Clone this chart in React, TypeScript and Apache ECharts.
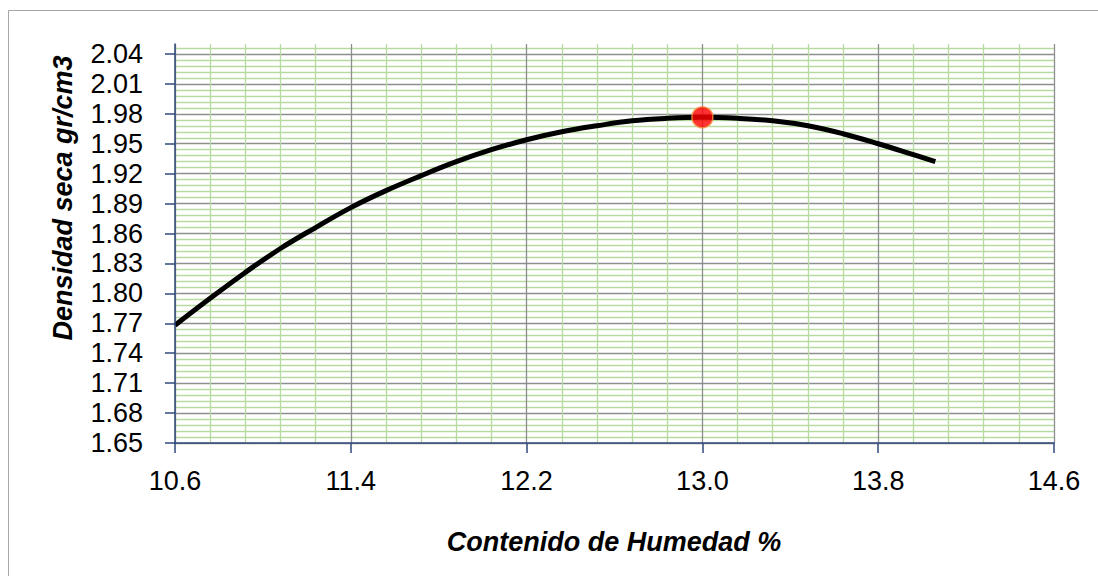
import React, { useEffect, useRef } from "react";
import * as echarts from "echarts";

// Moisture content (%) and dry density (gr/cm3)
const moisture = [10.6, 10.76, 10.92, 11.08, 11.24, 11.4, 11.56, 11.72, 11.88, 12.04, 12.2, 12.36, 12.52, 12.68, 12.84, 13.0, 13.16, 13.32, 13.48, 13.64, 13.8, 13.96, 14.06];
const density = [1.768, 1.795, 1.821, 1.845, 1.866, 1.886, 1.903, 1.918, 1.932, 1.944, 1.954, 1.962, 1.968, 1.973, 1.9755, 1.9765, 1.9755, 1.973, 1.968, 1.96, 1.95, 1.939, 1.932];
// Optimum point
const optimumMoisture = [13.0];
const optimumDensity = [1.9765];
// Tick labels
const yTicks = [1.65, 1.68, 1.71, 1.74, 1.77, 1.8, 1.83, 1.86, 1.89, 1.92, 1.95, 1.98, 2.01, 2.04];
const xTicks = [10.6, 11.4, 12.2, 13.0, 13.8, 14.6];
const xTitle = "Contenido de Humedad %";
const yTitle = "Densidad seca gr/cm3";

const MAJOR = "#8E8E8E";
const MINOR = "#B7DB9F";
const AXIS = "#2F4A7C";
const FONT = '"Liberation Sans", Arial, sans-serif';

export default function App() {
  const ref = useRef<HTMLDivElement>(null);
  useEffect(() => {
    if (!ref.current) return;
    const chart = echarts.init(ref.current, undefined, { renderer: "svg" });
    chart.setOption({
      animation: false,
      backgroundColor: "#ffffff",
      grid: { left: 175, right: 44, top: 44, bottom: 133 },
      xAxis: {
        type: "value",
        min: xTicks[0],
        max: xTicks[xTicks.length - 1],
        interval: 0.8,
        axisLine: { show: true, onZero: false, lineStyle: { color: AXIS, width: 1.5 } },
        axisTick: { show: true, length: 10, lineStyle: { color: AXIS, width: 1.5 } },
        axisLabel: {
          margin: 24,
          fontSize: 27,
          fontFamily: FONT,
          color: "#000",
          formatter: (v: number) => v.toFixed(1),
        },
        splitLine: { show: true, lineStyle: { color: MAJOR, width: 1.3 } },
        minorTick: { show: false, splitNumber: 5 },
        minorSplitLine: { show: true, lineStyle: { color: MINOR, width: 1.3 } },
      },
      yAxis: [
        {
          type: "value",
          min: 1.65,
          max: 2.05,
          interval: 0.03,
          axisLine: { show: true, onZero: false, lineStyle: { color: AXIS, width: 1.5 } },
          axisTick: { show: true, length: 10, lineStyle: { color: AXIS, width: 1.5 }, customValues: yTicks },
          axisLabel: {
            margin: 32,
            fontSize: 27,
            fontFamily: FONT,
            color: "#000",
            customValues: yTicks,
            formatter: (v: number) => v.toFixed(2),
          },
          splitLine: { show: false },
          z: 5,
        },
        {
          type: "value",
          min: 1.65,
          max: 2.05,
          interval: 0.006,
          position: "left",
          axisLine: { show: false },
          axisTick: { show: false },
          axisLabel: { show: false },
          splitLine: {
            show: true,
            showMaxLine: false,
            lineStyle: { color: [MAJOR, MINOR, MINOR, MINOR, MINOR], width: 1.3 },
          },
          z: 0,
        },
      ],
      series: [
        {
          type: "line",
          data: moisture.map((m, i) => [m, density[i]]),
          smooth: 0.4,
          showSymbol: false,
          symbol: "none",
          lineStyle: { color: "#000000", width: 5 },
          z: 3,
        },
        {
          type: "scatter",
          data: optimumMoisture.map((m, i) => [m, optimumDensity[i]]),
          symbol: "circle",
          symbolSize: 21,
          itemStyle: { color: "#FF0000", borderColor: "#F79646", borderWidth: 1.5 },
          z: 4,
        },
      ],
      graphic: [
        {
          type: "rect",
          shape: { x: 8.5, y: 10.5, width: 1200, height: 700 },
          style: { fill: "none", stroke: "#A6A6A6", lineWidth: 1 },
          silent: true,
        },
        {
          type: "text",
          x: 614,
          y: 542,
          style: {
            text: xTitle,
            font: `italic bold 27px ${FONT}`,
            fill: "#000",
            align: "center",
            verticalAlign: "middle",
          },
        },
        {
          type: "text",
          x: 63,
          y: 198,
          rotation: Math.PI / 2,
          style: {
            text: yTitle,
            font: `italic bold 27px ${FONT}`,
            fill: "#000",
            align: "center",
            verticalAlign: "middle",
          },
        },
      ],
    });
    return () => chart.dispose();
  }, []);
  return (
    <div
      ref={ref}
      style={{ position: "fixed", left: 0, top: 0, width: 1098, height: 576, background: "#fff" }}
    />
  );
}
